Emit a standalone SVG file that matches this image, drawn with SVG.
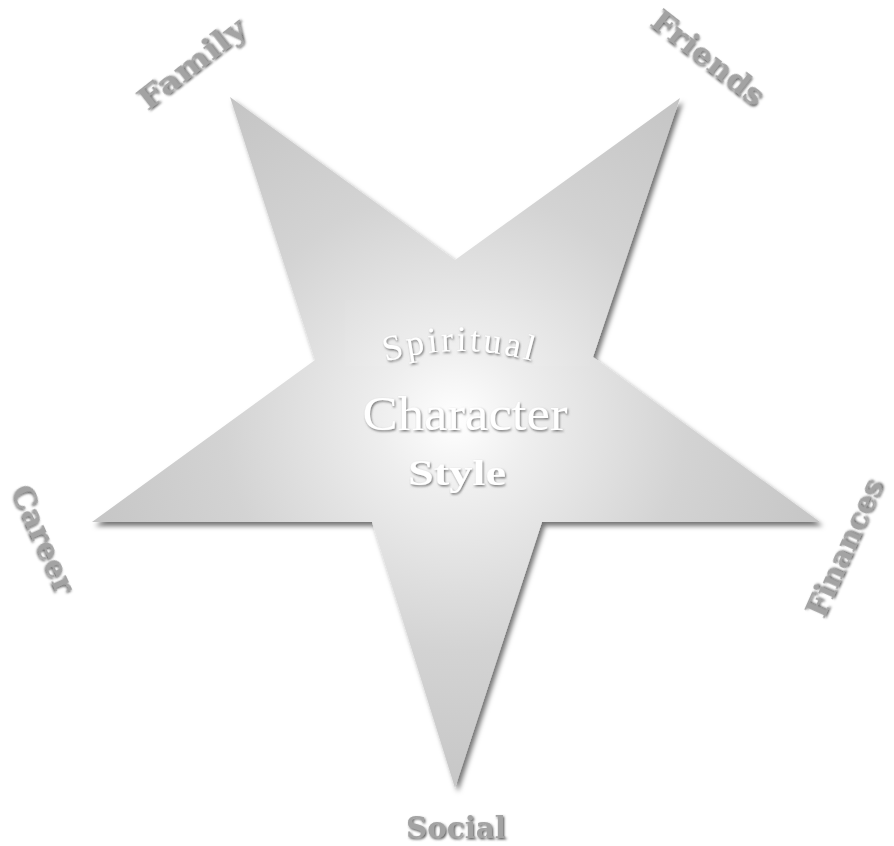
<svg xmlns="http://www.w3.org/2000/svg" width="894" height="846" viewBox="0 0 894 846">
  <defs>
    <radialGradient id="starFill" cx="455" cy="420" r="420" gradientUnits="userSpaceOnUse">
      <stop offset="0" stop-color="#ffffff"/>
      <stop offset="0.18" stop-color="#eeeeee"/>
      <stop offset="0.55" stop-color="#d3d3d3"/>
      <stop offset="1" stop-color="#c2c2c2"/>
    </radialGradient>
    <filter id="starShadow" x="-10%" y="-10%" width="120%" height="120%">
      <feDropShadow dx="3" dy="4" stdDeviation="2.5" flood-color="#000" flood-opacity="0.55"/>
    </filter>
    <filter id="emboss" x="-10%" y="-20%" width="120%" height="140%">
      <feDropShadow dx="1.2" dy="1.5" stdDeviation="1" flood-color="#4a4a4a" flood-opacity="0.9"/>
    </filter>
    <filter id="embossLight" x="-10%" y="-20%" width="120%" height="140%">
      <feDropShadow dx="1" dy="1.5" stdDeviation="0.8" flood-color="#6a6a6a" flood-opacity="0.9"/>
    </filter>
    <path id="arcSpiritual" d="M 366 368 Q 460 334 554 368"/>
  </defs>
  <style>
    .label { font-family: "DejaVu Serif", "Liberation Serif", serif; font-weight: bold; font-size: 30px; fill: #a3a3a3; filter: url(#emboss); }
    .inner { font-family: "Liberation Serif", "DejaVu Serif", serif; fill: #ffffff; filter: url(#embossLight); text-anchor: middle; }
  </style>
  <rect width="894" height="846" fill="#ffffff"/>

  <g id="star">
    <polygon points="230,97 455,260 680,98 593,357 820,522 542,522 455,788 372,522 92,522 315,360" fill="url(#starFill)" filter="url(#starShadow)"/>
    <rect x="345" y="300" width="245" height="66" fill="#ffffff" opacity="0.05"/>
  </g>

  <g id="center-text">
    <text class="inner" font-size="36" letter-spacing="3"><textPath href="#arcSpiritual" startOffset="50%">Spiritual</textPath></text>
    <text class="inner" x="465" y="430" font-size="48" textLength="205" lengthAdjust="spacingAndGlyphs">Character</text>
    <text class="inner" x="457" y="485" font-size="36" font-weight="bold" textLength="98" lengthAdjust="spacingAndGlyphs">Style</text>
  </g>

  <g id="family">
    <text class="label" transform="translate(198,72) rotate(-38)" text-anchor="middle" textLength="128" lengthAdjust="spacingAndGlyphs">Family</text>
  </g>
  <g id="friends">
    <text class="label" transform="translate(702,66) rotate(38)" text-anchor="middle" textLength="135" lengthAdjust="spacingAndGlyphs">Friends</text>
  </g>
  <g id="career">
    <text class="label" transform="translate(34,543) rotate(66)" text-anchor="middle" textLength="115" lengthAdjust="spacingAndGlyphs">Career</text>
  </g>
  <g id="finances">
    <text class="label" transform="translate(854,552) rotate(-66)" text-anchor="middle" textLength="148" lengthAdjust="spacingAndGlyphs">Finances</text>
  </g>
  <g id="social">
    <text class="label" x="456" y="838" text-anchor="middle" textLength="100" lengthAdjust="spacingAndGlyphs">Social</text>
  </g>
</svg>
